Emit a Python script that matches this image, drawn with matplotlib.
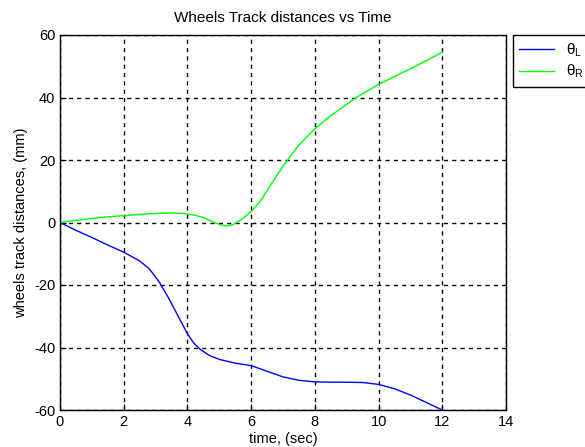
import matplotlib
matplotlib.use('Agg')
import matplotlib.pyplot as plt

# sampled wheel track distances (mm) against time (sec)
time_l = [0, 0.5, 1, 1.5, 2, 2.5, 2.8, 3.1, 3.4, 3.7, 4.0, 4.2, 4.4, 4.7, 5.0, 5.5,
          6.0, 6.5, 7.0, 7.5, 8.0, 8.5, 9.0, 9.5, 10.0, 10.5, 11.0, 11.5, 12.0]
theta_l = [0, -2.5, -4.8, -7.2, -9.5, -12.3, -14.8, -18.8, -24, -29.8, -35.6, -38.6,
           -40.6, -42.6, -43.8, -45, -45.8, -47.6, -49.4, -50.5, -51, -51.1, -51.1,
           -51.2, -51.8, -53.2, -55.2, -57.6, -60]

time_r = [0, 0.5, 1, 1.5, 2, 2.5, 3, 3.5, 3.9, 4.2, 4.5, 4.8, 5.0, 5.2, 5.4, 5.65,
          5.8, 6.0, 6.3, 6.6, 7.0, 7.5, 8.0, 8.5, 9.0, 9.3, 9.6, 10.0, 10.5,
          11.0, 11.5, 12.0]
theta_r = [0, 0.7, 1.3, 1.8, 2.2, 2.6, 2.9, 3.0, 2.9, 2.4, 1.6, 0.2, -0.6, -1.1,
           -0.8, 0.6, 1.8, 3.5, 7.0, 11.8, 18, 24.8, 30, 34.2, 37.8, 40, 41.8,
           44.2, 46.7, 49.2, 51.8, 54.5]

x_ticks = [0, 2, 4, 6, 8, 10, 12, 14]
y_ticks = [-60, -40, -20, 0, 20, 40, 60]

plt.rcParams['font.family'] = ['Liberation Sans', 'DejaVu Sans']
plt.rcParams['mathtext.fontset'] = 'custom'
plt.rcParams['mathtext.rm'] = 'Liberation Sans'
plt.rcParams['mathtext.it'] = 'Liberation Sans'
plt.rcParams['axes.unicode_minus'] = False

fig = plt.figure(figsize=(5.85, 4.47), dpi=100)
ax = fig.add_axes([60/585, 37/447, 446/585, 375/447])

ax.plot(time_l, theta_l, color='#0000ff', lw=1, label=r'$\theta_L$')
ax.plot(time_r, theta_r, color='#00ff00', lw=1, label=r'$\theta_R$')

ax.set_xlim(0, 14)
ax.set_ylim(-60, 60)
ax.set_xticks(x_ticks)
ax.set_yticks(y_ticks)
ax.tick_params(direction='in', length=4, labelsize=10.5, colors='black')
ax.grid(True, color='black', linestyle=(0, (3, 3)), linewidth=1)
for s in ax.spines.values():
    s.set_color('black')
    s.set_linewidth(1)

ax.set_title('Wheels Track distances vs Time', fontsize=11, pad=9)
ax.set_xlabel('time, (sec)', fontsize=10.5, labelpad=2)
ax.set_ylabel('wheels track distances, (mm)', fontsize=10.5, labelpad=4)

leg = fig.legend(loc='upper left', bbox_to_anchor=(513/585, 1 - 35/447),
                 borderaxespad=0, fancybox=False, framealpha=1,
                 handlelength=2.3, fontsize=11, borderpad=0.4,
                 labelspacing=0.3, handletextpad=0.8)
leg.get_frame().set_edgecolor('black')
leg.get_frame().set_linewidth(1)

fig.savefig('out.png', dpi=100)
